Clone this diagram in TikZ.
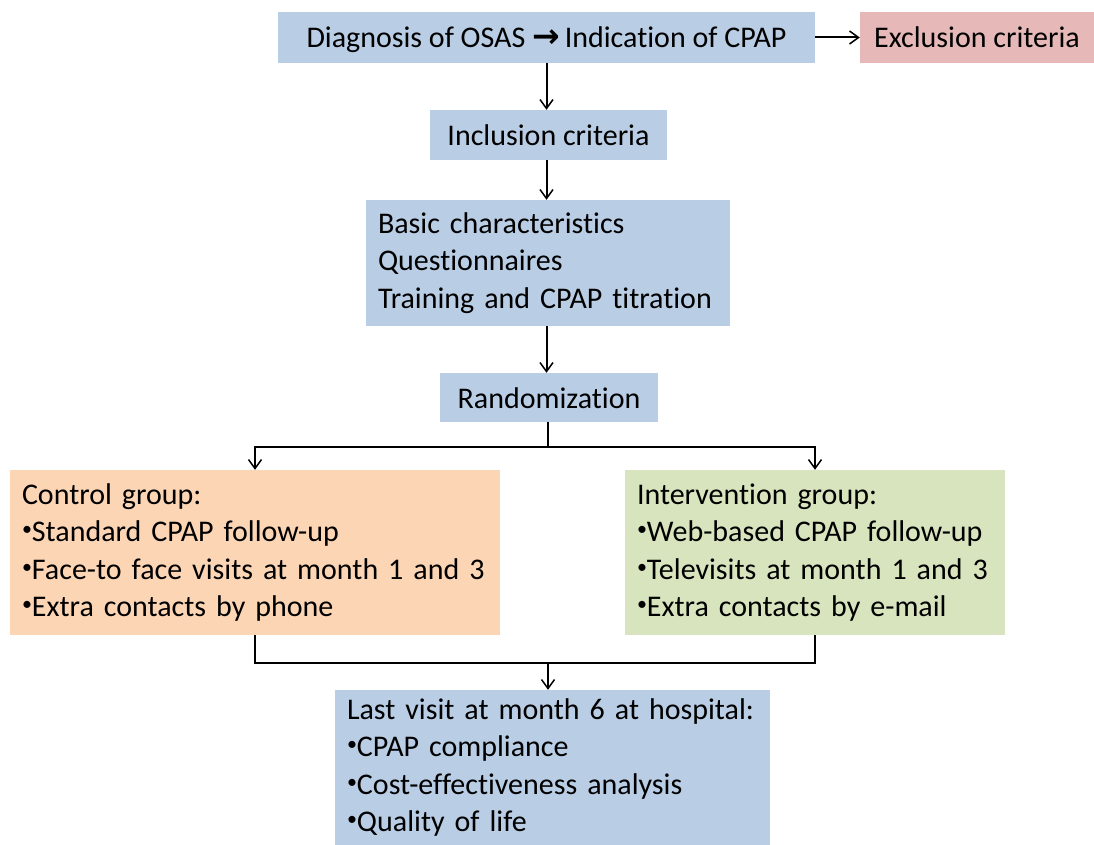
\documentclass[tikz,border=0pt]{standalone}
\usepackage{fontspec}
\setmainfont[Ligatures={NoCommon}]{Carlito}
\newfontfamily\symfont{DejaVu Sans}
\usetikzlibrary{arrows.meta}
\definecolor{boxblue}{HTML}{B9CDE5}
\definecolor{boxpeach}{HTML}{FCD5B5}
\definecolor{boxgreen}{HTML}{D7E4BD}
\definecolor{boxpink}{HTML}{E6B9B8}
\newcommand{\dotitem}{\raisebox{0.2em}{\fontsize{20}{20}\selectfont•}}
\begin{document}
\begin{tikzpicture}[x=1pt,y=-1pt,
  txt/.style={font=\fontsize{30}{37.5}\selectfont},
  box/.style={txt, fill=boxblue, inner sep=0pt, minimum width=#1, text height=26pt, text depth=5pt},
  list/.style={txt, inner xsep=12pt, inner ysep=0pt, align=left, text width=#1},
  conn/.style={line width=2pt, black},
  arr/.style={conn, -{Straight Barb[length=9pt,width=13pt,line width=1.5pt]}}
]
\useasboundingbox (0,0) rectangle (1094,845);

% flow boxes
\node[box=537pt, minimum height=51pt] (diag) at (546.5,37.5)
  {Diagnosis of OSAS {\symfont\bfseries\fontsize{33}{33}\selectfont →}\,Indication of CPAP};
\node[box=234pt, minimum height=51pt, fill=boxpink] (excl) at (977,37.5) {Exclusion criteria};
\node[box=237pt, minimum height=50pt] (incl) at (548.5,135) {Inclusion criteria};
\node[list=340pt, fill=boxblue, minimum height=126pt] (basic) at (548,263)
  {\mbox{Basic characteristics}\\\mbox{Questionnaires}\\\mbox{Training and CPAP titration}};
\node[box=218pt, minimum height=49pt] (rand) at (549,397.5) {Randomization};
\node[list=466pt, fill=boxpeach, minimum height=165pt] (ctrl) at (255,552.5)
  {\mbox{Control group:}\\
   \mbox{\dotitem Standard CPAP follow-up}\\
   \mbox{\dotitem Face-to face visits at month 1 and 3}\\
   \mbox{\dotitem Extra contacts by phone}};
\node[list=356pt, fill=boxgreen, minimum height=165pt] (intv) at (815,552.5)
  {\mbox{Intervention group:}\\
   \mbox{\dotitem Web-based CPAP follow-up}\\
   \mbox{\dotitem Televisits at month 1 and 3}\\
   \mbox{\dotitem Extra contacts by e-mail}};
\node[list=411pt, fill=boxblue, minimum height=155pt] (last) at (552.5,767.5)
  {\mbox{Last visit at month 6 at hospital:}\\
   \mbox{\dotitem CPAP compliance}\\
   \mbox{\dotitem Cost-effectiveness analysis}\\
   \mbox{\dotitem Quality of life}};

% connectors
\draw[arr] (diag.east) -- (excl.west);
\draw[arr] (diag.south) -- (diag.south |- incl.north);
\draw[arr] (incl.south -| diag.south) -- (diag.south |- basic.north);
\draw[arr] (basic.south -| diag.south) -- (diag.south |- rand.north);

\coordinate (split) at (548,447);
\draw[conn] (rand.south -| split) -- (split);
\draw[arr] (split) -| (ctrl.north);
\draw[arr] (split) -| (intv.north);

\coordinate (merge) at (548,663);
\draw[conn] (ctrl.south) |- (merge) -| (intv.south);
\draw[arr] (merge) -- (merge |- last.north);
\end{tikzpicture}
\end{document}
